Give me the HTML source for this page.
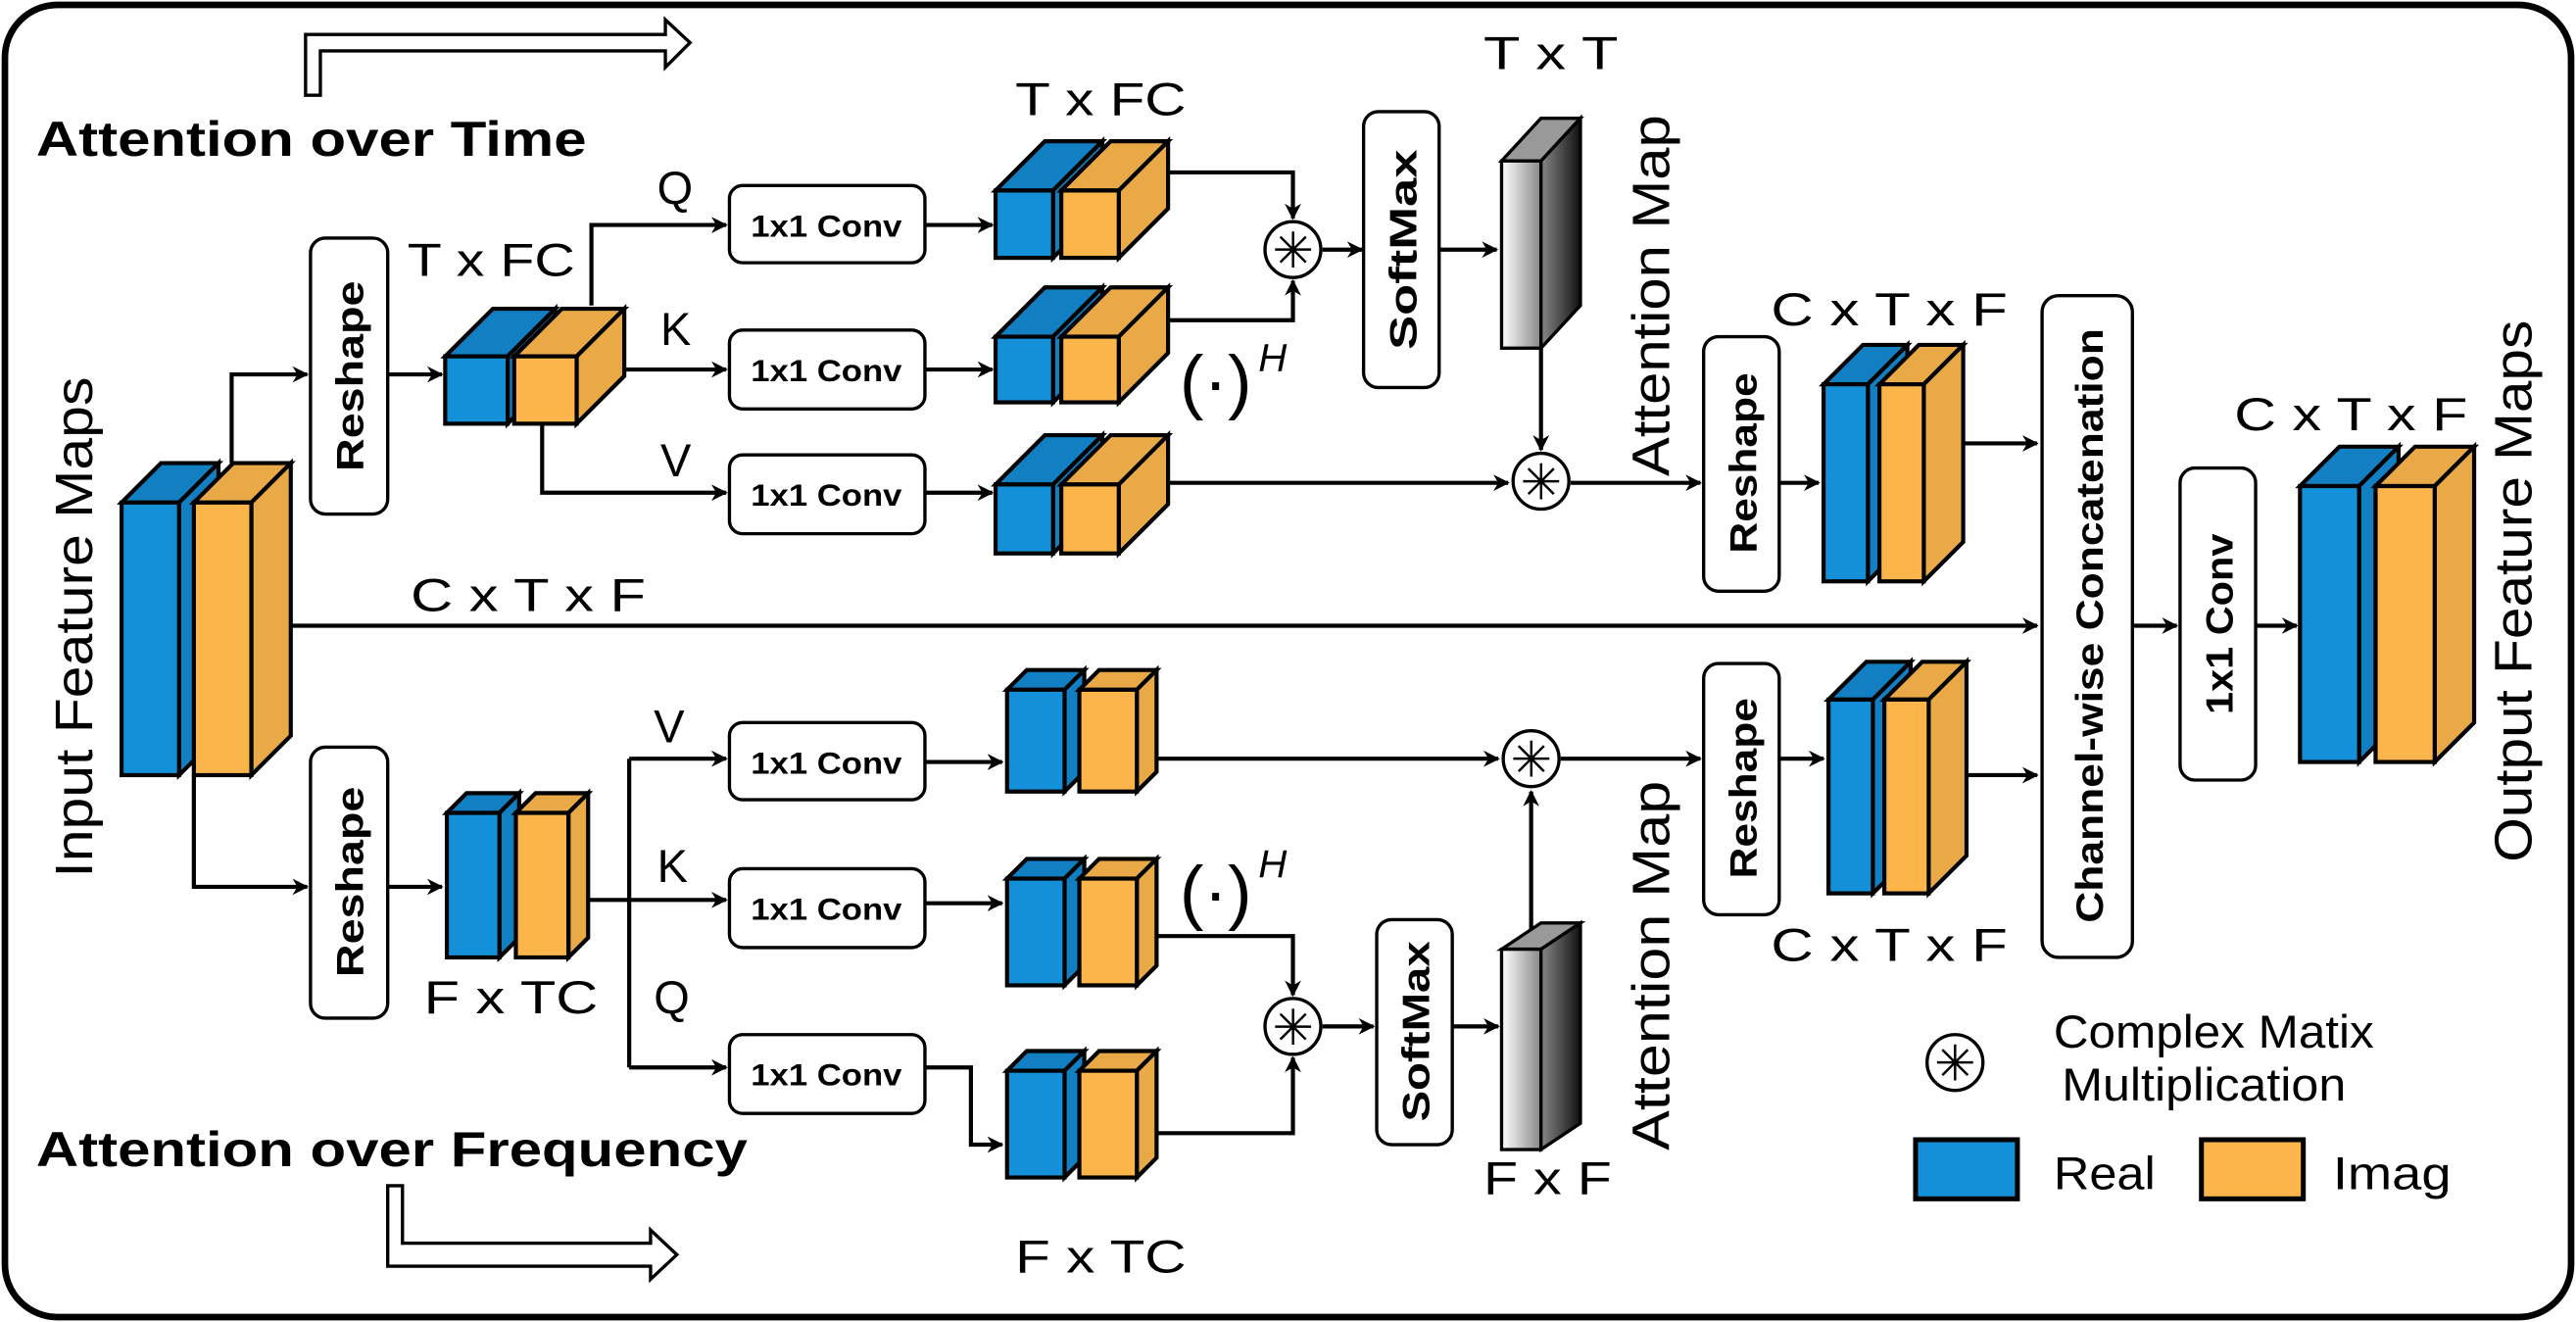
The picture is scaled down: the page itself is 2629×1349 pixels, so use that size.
<!DOCTYPE html>
<html><head><meta charset="utf-8"><style>
html,body{margin:0;padding:0;background:#fff;}
svg{display:block;}
text{font-family:"Liberation Sans",sans-serif;fill:#000;}
.b{font-weight:bold;}
</style></head><body>
<svg width="2629" height="1349" viewBox="0 0 1568 805" preserveAspectRatio="none" xmlns="http://www.w3.org/2000/svg">
<defs>
<marker id="a" markerWidth="10" markerHeight="10" refX="9" refY="5" orient="auto" markerUnits="userSpaceOnUse"><path d="M0,0 L10,5 L0,10 L3,5 Z" fill="#000"/></marker>
<linearGradient id="g" x1="0" x2="1" y1="0" y2="0"><stop offset="0" stop-color="#fff"/><stop offset="1" stop-color="#888"/></linearGradient>
<linearGradient id="g2" x1="0" x2="1" y1="0" y2="0"><stop offset="0" stop-color="#888"/><stop offset="1" stop-color="#111"/></linearGradient>
</defs>
<rect x="3" y="3" width="1562" height="799" rx="32" fill="#fff" stroke="#000" stroke-width="4"/>
<g fill="none" stroke="#000" stroke-width="2.5">
<path d="M186,58 L186,21 L405,21 L405,12 L420,26 L405,41 L405,31 L195,31 L195,58 Z" stroke-width="2"/>
<path d="M236,722 L236,771 L396,771 L396,779 L412,764 L396,749 L396,757 L245,757 L245,722 Z" stroke-width="2"/>
<path d="M141,282 L141,228 L187,228" marker-end="url(#a)"/>
<path d="M236,228 L269,228" marker-end="url(#a)"/>
<path d="M360,186 L360,137 L442,137" marker-end="url(#a)"/>
<path d="M378,225 L442,225" marker-end="url(#a)"/>
<path d="M330,258 L330,300 L442,300" marker-end="url(#a)"/>
<path d="M563,137 L604,137" marker-end="url(#a)"/>
<path d="M563,225 L604,225" marker-end="url(#a)"/>
<path d="M563,300 L604,300" marker-end="url(#a)"/>
<path d="M711,105 L787,105 L787,133" marker-end="url(#a)"/>
<path d="M711,195 L787,195 L787,171" marker-end="url(#a)"/>
<path d="M805,152 L829,152" marker-end="url(#a)"/>
<path d="M876,152 L911,152" marker-end="url(#a)"/>
<path d="M938,212 L938,274" marker-end="url(#a)"/>
<path d="M711,294 L918,294" marker-end="url(#a)"/>
<path d="M956,294 L1035,294" marker-end="url(#a)"/>
<path d="M1083,294 L1107,294" marker-end="url(#a)"/>
<path d="M1195,270 L1240,270" marker-end="url(#a)"/>
<path d="M177,381 L1240,381" marker-end="url(#a)"/>
<path d="M1298,381 L1325,381" marker-end="url(#a)"/>
<path d="M1373,381 L1398,381" marker-end="url(#a)"/>
<path d="M118,472 L118,540 L187,540" marker-end="url(#a)"/>
<path d="M236,540 L269,540" marker-end="url(#a)"/>
<path d="M358,548 L383,548 M383,462 L383,650"/>
<path d="M383,462 L442,462" marker-end="url(#a)"/>
<path d="M383,548 L442,548" marker-end="url(#a)"/>
<path d="M383,650 L442,650" marker-end="url(#a)"/>
<path d="M563,464 L610,464" marker-end="url(#a)"/>
<path d="M563,550 L610,550" marker-end="url(#a)"/>
<path d="M563,650 L591,650 L591,697 L610,697" marker-end="url(#a)"/>
<path d="M704,570 L787,570 L787,606" marker-end="url(#a)"/>
<path d="M704,690 L787,690 L787,644" marker-end="url(#a)"/>
<path d="M805,625 L836,625" marker-end="url(#a)"/>
<path d="M884,625 L912,625" marker-end="url(#a)"/>
<path d="M932,577 L932,482" marker-end="url(#a)"/>
<path d="M704,462 L912,462" marker-end="url(#a)"/>
<path d="M950,462 L1035,462" marker-end="url(#a)"/>
<path d="M1083,462 L1110,462" marker-end="url(#a)"/>
<path d="M1197,472 L1240,472" marker-end="url(#a)"/>
</g>
<g fill="#fff" stroke="#000" stroke-width="2">
<rect x="189" y="145" width="47" height="168" rx="9"/>
<rect x="189" y="455" width="47" height="165" rx="9"/>
<rect x="444" y="113" width="119" height="47" rx="8"/>
<rect x="444" y="201" width="119" height="48" rx="8"/>
<rect x="444" y="277" width="119" height="48" rx="8"/>
<rect x="444" y="440" width="119" height="47" rx="8"/>
<rect x="444" y="529" width="119" height="48" rx="8"/>
<rect x="444" y="630" width="119" height="48" rx="8"/>
<rect x="830" y="68" width="46" height="168" rx="9"/>
<rect x="838" y="560" width="46" height="137" rx="9"/>
<rect x="1037" y="205" width="46" height="155" rx="9"/>
<rect x="1037" y="404" width="46" height="153" rx="9"/>
<rect x="1243" y="180" width="55" height="403" rx="10"/>
<rect x="1327" y="285" width="46" height="190" rx="9"/>
<polygon points="914,98 938,72 962,72 938,98" fill="#999"/>
<rect x="914" y="98" width="24" height="114" fill="url(#g)"/>
<polygon points="938,98 962,72 962,186 938,212" fill="url(#g2)"/>
<polygon points="914,578 938,562 962,562 938,578" fill="#999"/>
<rect x="914" y="578" width="24" height="122" fill="url(#g)"/>
<polygon points="938,578 962,562 962,684 938,700" fill="url(#g2)"/>
<circle cx="787" cy="152" r="17"/><circle cx="938" cy="293" r="17"/>
<circle cx="787" cy="625" r="17"/><circle cx="932" cy="462" r="17"/>
<circle cx="1190" cy="647" r="17"/>
<rect x="1166" y="694" width="62" height="36" fill="#1490d8" stroke-width="3"/>
<rect x="1340" y="694" width="62" height="36" fill="#fbb54a" stroke-width="3"/>
</g>
<g stroke="#000" stroke-width="2.5">
<g fill="#117fc1"><polygon points="74,306 98,282 133,282 109,306"/><polygon points="109,306 133,282 133,448 109,472"/></g><rect x="74" y="306" width="35" height="166" fill="#1490d8"/>
<g fill="#e9a947"><polygon points="118,306 142,282 177,282 153,306"/><polygon points="153,306 177,282 177,448 153,472"/></g><rect x="118" y="306" width="35" height="166" fill="#fbb54a"/>
<g fill="#117fc1"><polygon points="271,217 300,188 338,188 309,217"/><polygon points="309,217 338,188 338,229 309,258"/></g><rect x="271" y="217" width="38" height="41" fill="#1490d8"/>
<g fill="#e9a947"><polygon points="313,217 342,188 380,188 351,217"/><polygon points="351,217 380,188 380,229 351,258"/></g><rect x="313" y="217" width="38" height="41" fill="#fbb54a"/>
<g fill="#117fc1"><polygon points="606,116 636,86 671,86 641,116"/><polygon points="641,116 671,86 671,127 641,157"/></g><rect x="606" y="116" width="35" height="41" fill="#1490d8"/>
<g fill="#e9a947"><polygon points="646,116 676,86 711,86 681,116"/><polygon points="681,116 711,86 711,127 681,157"/></g><rect x="646" y="116" width="35" height="41" fill="#fbb54a"/>
<g fill="#117fc1"><polygon points="606,205 636,175 671,175 641,205"/><polygon points="641,205 671,175 671,215 641,245"/></g><rect x="606" y="205" width="35" height="40" fill="#1490d8"/>
<g fill="#e9a947"><polygon points="646,205 676,175 711,175 681,205"/><polygon points="681,205 711,175 711,215 681,245"/></g><rect x="646" y="205" width="35" height="40" fill="#fbb54a"/>
<g fill="#117fc1"><polygon points="606,295 636,265 671,265 641,295"/><polygon points="641,295 671,265 671,307 641,337"/></g><rect x="606" y="295" width="35" height="42" fill="#1490d8"/>
<g fill="#e9a947"><polygon points="646,295 676,265 711,265 681,295"/><polygon points="681,295 711,265 711,307 681,337"/></g><rect x="646" y="295" width="35" height="42" fill="#fbb54a"/>
<g fill="#117fc1"><polygon points="1110,234 1134,210 1161,210 1137,234"/><polygon points="1137,234 1161,210 1161,330 1137,354"/></g><rect x="1110" y="234" width="27" height="120" fill="#1490d8"/>
<g fill="#e9a947"><polygon points="1144,234 1168,210 1195,210 1171,234"/><polygon points="1171,234 1195,210 1195,330 1171,354"/></g><rect x="1144" y="234" width="27" height="120" fill="#fbb54a"/>
<g fill="#117fc1"><polygon points="1400,296 1424,272 1460,272 1436,296"/><polygon points="1436,296 1460,272 1460,440 1436,464"/></g><rect x="1400" y="296" width="36" height="168" fill="#1490d8"/>
<g fill="#e9a947"><polygon points="1446,296 1470,272 1506,272 1482,296"/><polygon points="1482,296 1506,272 1506,440 1482,464"/></g><rect x="1446" y="296" width="36" height="168" fill="#fbb54a"/>
<g fill="#117fc1"><polygon points="272,495 284,483 316,483 304,495"/><polygon points="304,495 316,483 316,571 304,583"/></g><rect x="272" y="495" width="32" height="88" fill="#1490d8"/>
<g fill="#e9a947"><polygon points="314,495 326,483 358,483 346,495"/><polygon points="346,495 358,483 358,571 346,583"/></g><rect x="314" y="495" width="32" height="88" fill="#fbb54a"/>
<g fill="#117fc1"><polygon points="613,420 625,408 660,408 648,420"/><polygon points="648,420 660,408 660,470 648,482"/></g><rect x="613" y="420" width="35" height="62" fill="#1490d8"/>
<g fill="#e9a947"><polygon points="657,420 669,408 704,408 692,420"/><polygon points="692,420 704,408 704,470 692,482"/></g><rect x="657" y="420" width="35" height="62" fill="#fbb54a"/>
<g fill="#117fc1"><polygon points="613,535 625,523 660,523 648,535"/><polygon points="648,535 660,523 660,588 648,600"/></g><rect x="613" y="535" width="35" height="65" fill="#1490d8"/>
<g fill="#e9a947"><polygon points="657,535 669,523 704,523 692,535"/><polygon points="692,535 704,523 704,588 692,600"/></g><rect x="657" y="535" width="35" height="65" fill="#fbb54a"/>
<g fill="#117fc1"><polygon points="613,652 625,640 660,640 648,652"/><polygon points="648,652 660,640 660,705 648,717"/></g><rect x="613" y="652" width="35" height="65" fill="#1490d8"/>
<g fill="#e9a947"><polygon points="657,652 669,640 704,640 692,652"/><polygon points="692,652 704,640 704,705 692,717"/></g><rect x="657" y="652" width="35" height="65" fill="#fbb54a"/>
<g fill="#117fc1"><polygon points="1113,426 1136,403 1163,403 1140,426"/><polygon points="1140,426 1163,403 1163,521 1140,544"/></g><rect x="1113" y="426" width="27" height="118" fill="#1490d8"/>
<g fill="#e9a947"><polygon points="1147,426 1170,403 1197,403 1174,426"/><polygon points="1174,426 1197,403 1197,521 1174,544"/></g><rect x="1147" y="426" width="27" height="118" fill="#fbb54a"/>
</g>
<g font-size="30" text-anchor="middle">
<text x="787" y="163">✳</text><text x="938" y="304">✳</text><text x="787" y="636">✳</text><text x="932" y="473">✳</text><text x="1190" y="658">✳</text>
</g>
<text x="22" y="95" font-size="30" class="b" textLength="335" lengthAdjust="spacingAndGlyphs">Attention over Time</text>
<text x="22" y="710" font-size="30" class="b" textLength="433" lengthAdjust="spacingAndGlyphs">Attention over Frequency</text>
<g font-size="28">
<text x="618" y="70" textLength="104" lengthAdjust="spacingAndGlyphs">T x FC</text>
<text x="248" y="168" textLength="102" lengthAdjust="spacingAndGlyphs">T x FC</text>
<text x="250" y="372" textLength="143" lengthAdjust="spacingAndGlyphs">C x T x F</text>
<text x="903" y="42" textLength="82" lengthAdjust="spacingAndGlyphs">T x T</text>
<text x="1078" y="198" textLength="144" lengthAdjust="spacingAndGlyphs">C x T x F</text>
<text x="1360" y="262" textLength="142" lengthAdjust="spacingAndGlyphs">C x T x F</text>
<text x="258" y="617" textLength="106" lengthAdjust="spacingAndGlyphs">F x TC</text>
<text x="618" y="775" textLength="104" lengthAdjust="spacingAndGlyphs">F x TC</text>
<text x="903" y="727" textLength="78" lengthAdjust="spacingAndGlyphs">F x F</text>
<text x="1078" y="585" textLength="144" lengthAdjust="spacingAndGlyphs">C x T x F</text>
<text x="400" y="124">Q</text><text x="402" y="210">K</text><text x="402" y="290">V</text>
<text x="398" y="452">V</text><text x="400" y="537">K</text><text x="398" y="617">Q</text>
<text x="1250" y="638" textLength="195" lengthAdjust="spacingAndGlyphs">Complex Matix</text>
<text x="1255" y="670" textLength="173" lengthAdjust="spacingAndGlyphs">Multiplication</text>
<text x="1250" y="724" textLength="62" lengthAdjust="spacingAndGlyphs">Real</text>
<text x="1420" y="724" textLength="72" lengthAdjust="spacingAndGlyphs">Imag</text>
</g>
<g font-family="Liberation Serif" font-size="44">
<text x="718" y="247">(·)</text><text x="766" y="226" font-size="24" font-style="italic">H</text>
<text x="718" y="558">(·)</text><text x="766" y="534" font-size="24" font-style="italic">H</text>
</g>
<g font-size="19" class="b" text-anchor="middle">
<text x="503" y="144" textLength="92" lengthAdjust="spacingAndGlyphs">1x1 Conv</text><text x="503" y="232" textLength="92" lengthAdjust="spacingAndGlyphs">1x1 Conv</text><text x="503" y="308" textLength="92" lengthAdjust="spacingAndGlyphs">1x1 Conv</text>
<text x="503" y="471" textLength="92" lengthAdjust="spacingAndGlyphs">1x1 Conv</text><text x="503" y="560" textLength="92" lengthAdjust="spacingAndGlyphs">1x1 Conv</text><text x="503" y="661" textLength="92" lengthAdjust="spacingAndGlyphs">1x1 Conv</text>
</g>
<g font-size="23" class="b" text-anchor="middle">
<text transform="translate(221,229) rotate(-90)" textLength="116" lengthAdjust="spacingAndGlyphs">Reshape</text>
<text transform="translate(221,537) rotate(-90)" textLength="116" lengthAdjust="spacingAndGlyphs">Reshape</text>
<text transform="translate(862,152) rotate(-90)" textLength="122" lengthAdjust="spacingAndGlyphs">SoftMax</text>
<text transform="translate(870,628) rotate(-90)" textLength="110" lengthAdjust="spacingAndGlyphs">SoftMax</text>
<text transform="translate(1069,282) rotate(-90)" textLength="110" lengthAdjust="spacingAndGlyphs">Reshape</text>
<text transform="translate(1069,480) rotate(-90)" textLength="110" lengthAdjust="spacingAndGlyphs">Reshape</text>
<text transform="translate(1280,381) rotate(-90)" textLength="362" lengthAdjust="spacingAndGlyphs">Channel-wise Concatenation</text>
<text transform="translate(1359,380) rotate(-90)" textLength="110" lengthAdjust="spacingAndGlyphs">1x1 Conv</text>
</g>
<g font-size="32" text-anchor="middle">
<text transform="translate(56,382) rotate(-90)" textLength="305" lengthAdjust="spacingAndGlyphs">Input Feature Maps</text>
<text transform="translate(1541,360) rotate(-90)" textLength="330" lengthAdjust="spacingAndGlyphs">Output Feature Maps</text>
<text transform="translate(1016,180) rotate(-90)" textLength="220" lengthAdjust="spacingAndGlyphs">Attention Map</text>
<text transform="translate(1016,588) rotate(-90)" textLength="225" lengthAdjust="spacingAndGlyphs">Attention Map</text>
</g>
</svg>
</body></html>
